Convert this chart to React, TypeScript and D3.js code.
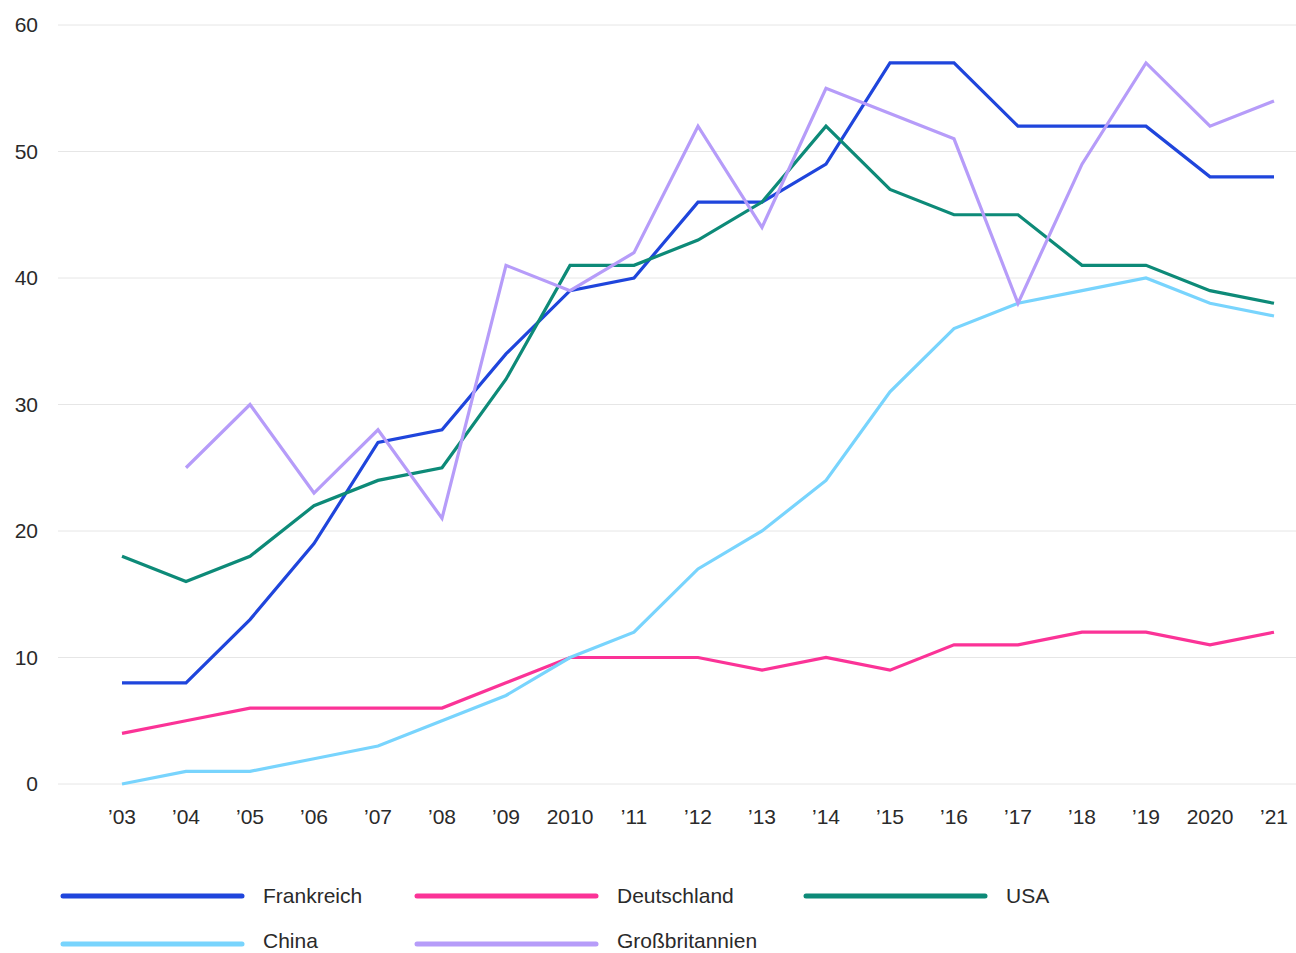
import React from "react";
import * as d3 from "d3";

const years = ["’03","’04","’05","’06","’07","’08","’09","2010","’11","’12","’13","’14","’15","’16","’17","’18","’19","2020","’21"];
const frankreich = [8,8,13,19,27,28,34,39,40,46,46,49,57,57,52,52,52,48,48];
const deutschland = [4,5,6,6,6,6,8,10,10,10,9,10,9,11,11,12,12,11,12];
const usa = [18,16,18,22,24,25,32,41,41,43,46,52,47,45,45,41,41,39,38];
const china = [0,1,1,2,3,5,7,10,12,17,20,24,31,36,38,39,40,38,37];
const grossbritannien: (number|null)[] = [null,25,30,23,28,21,41,39,42,52,44,55,53,51,38,49,57,52,54];
const yTicks = [0,10,20,30,40,50,60];

const series = [
  { name: "Frankreich", values: frankreich as (number|null)[], color: "#1f45dc" },
  { name: "Deutschland", values: deutschland as (number|null)[], color: "#fb3397" },
  { name: "USA", values: usa as (number|null)[], color: "#0d8a78" },
  { name: "China", values: china as (number|null)[], color: "#78d4fd" },
  { name: "Großbritannien", values: grossbritannien, color: "#b69cf9" },
];

export default function App() {
  const W = 1296, H = 953;
  const x = d3.scalePoint<string>().domain(years).range([122, 1274]);
  const y = d3.scaleLinear().domain([0, 60]).range([784, 25]);
  const line = d3.line<number|null>()
    .defined(d => d !== null)
    .x((_, i) => x(years[i]) as number)
    .y(d => y(d as number));
  const font = "'Liberation Sans', Arial, sans-serif";
  const legendPos = [
    { lx: 63, ly: 896, ty: 896 }, { lx: 417, ly: 896, ty: 896 }, { lx: 806, ly: 896, ty: 896 },
    { lx: 63, ly: 944, ty: 941 }, { lx: 417, ly: 944, ty: 941 },
  ];
  return (
    <svg width={W} height={H} style={{ position: "absolute", left: 0, top: 0, background: "#fff" }}>
      {yTicks.map(t => (
        <g key={t}>
          <line x1={58} x2={1296} y1={y(t)} y2={y(t)} stroke="#e6e6e6" strokeWidth={1} />
          <text x={38} y={y(t)} dy="0.35em" textAnchor="end" fontFamily={font} fontSize={21} fill="#2a2a2a">{t}</text>
        </g>
      ))}
      {years.map(yr => (
        <text key={yr} x={x(yr)} y={824} textAnchor="middle" fontFamily={font} fontSize={21} fill="#2a2a2a">{yr}</text>
      ))}
      {series.map(s => (
        <path key={s.name} d={line(s.values) || ""} fill="none" stroke={s.color} strokeWidth={3.2} strokeLinejoin="miter" />
      ))}
      {series.map((s, i) => (
        <g key={s.name}>
          <line x1={legendPos[i].lx} x2={legendPos[i].lx + 179} y1={legendPos[i].ly} y2={legendPos[i].ly} stroke={s.color} strokeWidth={5} strokeLinecap="round" />
          <text x={legendPos[i].lx + 200} y={legendPos[i].ty} dy="0.35em" fontFamily={font} fontSize={21} fill="#2a2a2a">{s.name}</text>
        </g>
      ))}
    </svg>
  );
}
